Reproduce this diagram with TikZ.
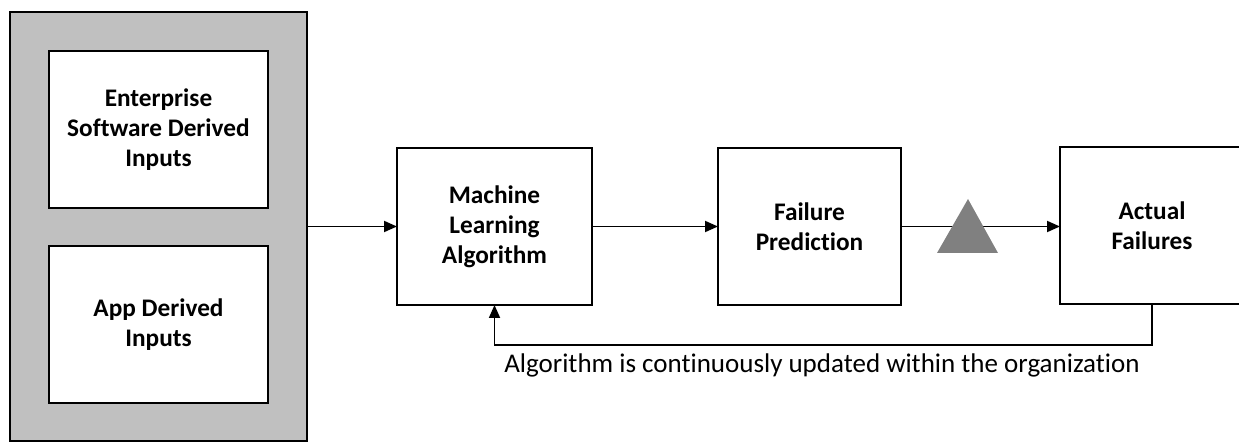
\documentclass[tikz,border=0pt]{standalone}
\usepackage{fontspec}
\setmainfont[Ligatures=NoCommon]{Carlito}
\usetikzlibrary{arrows.meta}
\definecolor{boxgray}{HTML}{C0C0C0}
\definecolor{trigray}{HTML}{808080}
\tikzset{
  box/.style={draw=black, line width=2pt, fill=white, inner sep=0pt, outer sep=0pt,
    align=center, font=\fontsize{25.3}{30}\selectfont\bfseries},
  conn/.style={line width=1.8pt, -{Triangle[length=13pt,width=11pt]}}
}
\begin{document}
\begin{tikzpicture}[x=1pt,y=-1pt]
\useasboundingbox (0,0) rectangle (1239,443);
\node[box, fill=boxgray, line width=2.4pt, minimum width=297pt, minimum height=429pt] (outer) at (158.5,226.5) {};
\node[box, minimum width=219pt, minimum height=157pt] (ent) at (158.5,129.5) {Enterprise\\Software Derived\\Inputs};
\node[box, minimum width=219pt, minimum height=157pt] (app) at (158.5,324.5) {App Derived\\Inputs};
\node[box, minimum width=195pt, minimum height=157pt] (ml) at (494.5,226.5) {Machine\\Learning\\Algorithm};
\node[box, minimum width=183pt, minimum height=157pt] (fp) at (809.5,226.5) {Failure\\Prediction};
\node[box, minimum width=184pt, minimum height=157pt] (af) at (1152,225.5) {Actual\\Failures};
\draw[conn] (outer.east |- ml.west) -- (ml.west);
\draw[conn] (ml.east) -- (fp.west);
\draw[conn] (fp.east) -- (fp.east -| af.west);
\fill[trigray] (937,253) -- (968,199) -- (998,253) -- cycle;
\coordinate (fbturn) at ([yshift=-41pt]af.south);
\draw[conn] (af.south) -- (fbturn) -| (ml.south);
\node[anchor=base, font=\fontsize{27}{32}\selectfont] (note) at (822,373) {Algorithm is continuously updated within the organization};
\end{tikzpicture}
\end{document}
